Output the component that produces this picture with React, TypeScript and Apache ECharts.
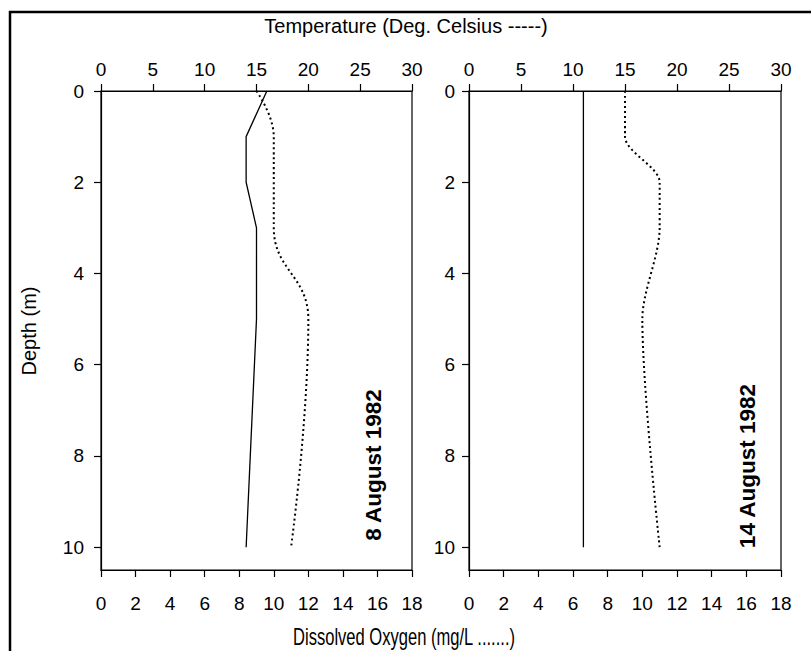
import React, { useEffect, useRef } from "react";
import * as echarts from "echarts";

const depths = [0, 1, 2, 3, 5, 10];
const tempAug8 = [16, 14, 14, 15, 15, 14];
const doAug8 = [9, 10, 10, 10, 12, 11];
const tempAug14 = [11, 11, 11, 11, 11, 11];
const doAug14 = [9, 9, 11, 11, 10, 11];
const depthTicks = [0, 2, 4, 6, 8, 10];
const panelLabels = ["8 August 1982", "14 August 1982"];
const topTitle = "Temperature (Deg. Celsius -----)";
const bottomTitle = "Dissolved Oxygen (mg/L .......)";
const yTitle = "Depth (m)";

const FONT = "'Liberation Sans', Arial, sans-serif";

const pairs = (xs: number[]) => xs.map((v, i) => [v, depths[i]]);

export default function App() {
  const ref = useRef<HTMLDivElement>(null);
  useEffect(() => {
    if (!ref.current) return;
    const chart = echarts.init(ref.current, null, { renderer: "svg" });
    const grids = [
      { left: 101, top: 91, width: 311, height: 479 },
      { left: 469, top: 91, width: 312, height: 479 },
    ];
    const axisLine = { show: true, lineStyle: { color: "#000", width: 1.2 } };
    const tick = { show: true, length: 7, lineStyle: { color: "#000", width: 1.2 } };
    const label = { color: "#000", fontSize: 19, fontFamily: FONT };
    const xAxes: any[] = [];
    const yAxes: any[] = [];
    grids.forEach((_, g) => {
      xAxes.push({
        type: "value", gridIndex: g, position: "top", min: 0, max: 30, interval: 5,
        axisLine, axisTick: tick, splitLine: { show: false },
        axisLabel: { ...label, margin: 12 },
      });
      xAxes.push({
        type: "value", gridIndex: g, position: "bottom", min: 0, max: 18, interval: 2,
        axisLine, axisTick: tick, splitLine: { show: false },
        axisLabel: { ...label, margin: 24 },
      });
      yAxes.push({
        type: "value", gridIndex: g, inverse: true, min: 0, max: 10.5, interval: 2,
        axisLine, axisTick: { ...tick, customValues: depthTicks },
        splitLine: { show: false },
        axisLabel: { ...label, margin: g === 0 ? 17 : 14, customValues: depthTicks },
      });
    });
    const solid = { color: "#000", width: 1.3, type: "solid" };
    const dotted = { color: "#000", width: 2, type: [2, 3] };
    const series: any[] = [
      { type: "line", xAxisIndex: 0, yAxisIndex: 0, data: pairs(tempAug8), showSymbol: false, symbol: "none", lineStyle: solid },
      { type: "line", xAxisIndex: 1, yAxisIndex: 0, data: pairs(doAug8), showSymbol: false, symbol: "none", smooth: 0.45, lineStyle: dotted },
      { type: "line", xAxisIndex: 2, yAxisIndex: 1, data: pairs(tempAug14), showSymbol: false, symbol: "none", lineStyle: solid },
      { type: "line", xAxisIndex: 3, yAxisIndex: 1, data: pairs(doAug14), showSymbol: false, symbol: "none", smooth: 0.3, lineStyle: dotted },
    ];
    chart.setOption({
      animation: false,
      backgroundColor: "#fff",
      grid: grids.map((g) => ({ ...g, show: true, borderColor: "#000", borderWidth: 1.2, backgroundColor: "transparent" })),
      xAxis: xAxes,
      yAxis: yAxes,
      series,
      graphic: [
        { type: "rect", shape: { x: 10, y: 12, width: 900, height: 800 }, style: { fill: "none", stroke: "#000", lineWidth: 2.5 }, silent: true },
        { type: "text", x: 406, y: 26, style: { text: topTitle, font: `20px ${FONT}`, fill: "#000", textAlign: "center", textVerticalAlign: "middle" } },
        { type: "text", x: 404, y: 637, scaleX: 0.72, style: { text: bottomTitle, font: `23px ${FONT}`, fill: "#000", textAlign: "center", textVerticalAlign: "middle" } },
        { type: "text", x: 29, y: 331, rotation: Math.PI / 2, style: { text: yTitle, font: `20px ${FONT}`, fill: "#000", textAlign: "center", textVerticalAlign: "middle" } },
        { type: "text", x: 373, y: 465, rotation: Math.PI / 2, style: { text: panelLabels[0], font: `bold 22.5px ${FONT}`, fill: "#000", textAlign: "center", textVerticalAlign: "middle" } },
        { type: "text", x: 747, y: 466, rotation: Math.PI / 2, style: { text: panelLabels[1], font: `bold 22.5px ${FONT}`, fill: "#000", textAlign: "center", textVerticalAlign: "middle" } },
      ],
    });
    return () => chart.dispose();
  }, []);
  return <div ref={ref} style={{ position: "fixed", left: 0, top: 0, width: 811, height: 651 }} />;
}
